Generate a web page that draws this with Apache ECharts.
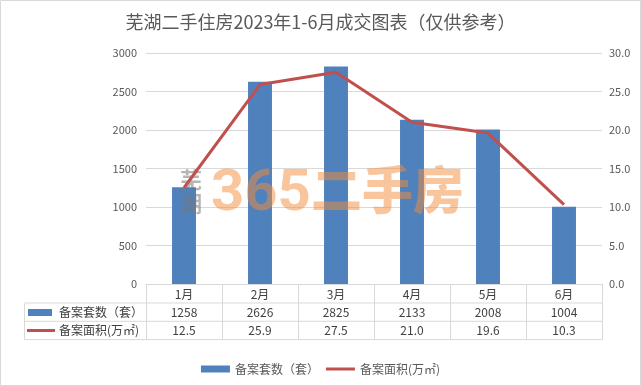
<!DOCTYPE html>
<html><head><meta charset="utf-8">
<script src="https://cdn.jsdelivr.net/npm/echarts@6/dist/echarts.min.js"></script>
<style>html,body{margin:0;padding:0;background:#fff}#c{width:641px;height:386px}</style>
</head><body><div id="c"></div>
<script>
const categories = ['1月','2月','3月','4月','5月','6月'];
const countValues = [1258, 2626, 2825, 2133, 2008, 1004];
const areaValues = [12.5, 25.9, 27.5, 21.0, 19.6, 10.3];
const seriesNames = ['备案套数（套）', '备案面积(万㎡)'];
const titleText = '芜湖二手住房2023年1-6月成交图表（仅供参考）';

const FONT = "'Noto Sans CJK SC', 'Microsoft YaHei', sans-serif";
const BLUE = '#4F81BD', RED = '#C0504D', GRID = '#d9d9d9', TXT = '#595959';
const G = {left: 146, right: 39, top: 53, bottom: 102};
const W = 641, H = 386;
const gridBottom = H - G.bottom;
const tableLeft = 24.5, tableRight = W - G.right;
const rowH = 18.3;

const chart = echarts.init(document.getElementById('c'), null, {renderer: 'canvas'});
const rowLines = [1, 2, 3].map(k => ({
  type: 'line', silent: true,
  shape: {x1: tableLeft, y1: gridBottom + 1 + rowH * k - 0.3, x2: tableRight, y2: gridBottom + 1 + rowH * k - 0.3},
  style: {stroke: GRID, lineWidth: 1}
}));
chart.setOption({
  backgroundColor: '#fff',
  textStyle: {fontFamily: FONT},
  title: {text: titleText, left: 'center', top: 8,
    textStyle: {fontSize: 18, fontWeight: 'normal', color: TXT, fontFamily: FONT}},
  grid: G,
  legend: {
    left: 'center', top: 358, itemWidth: 29, itemHeight: 7, itemGap: 7,
    textStyle: {fontSize: 12, color: TXT, fontFamily: FONT},
    data: [
      {name: seriesNames[0], icon: 'rect'},
      {name: seriesNames[1], icon: 'path://M0,0H29V3H0Z'}
    ]
  },
  xAxis: {
    type: 'category', data: categories,
    axisLine: {lineStyle: {color: GRID}},
    axisTick: {show: true, alignWithLabel: false, interval: 0, length: rowH * 3 + 1, lineStyle: {color: GRID}},
    axisLabel: {
      interval: 0, margin: 1,
      formatter: (v, i) => `{m|${v}}\n{v|${countValues[i]}}\n{v|${areaValues[i].toFixed(1)}}`,
      rich: {
        m: {fontSize: 12, lineHeight: rowH, color: '#404040', fontFamily: FONT},
        v: {fontSize: 12, lineHeight: rowH, color: '#404040', fontFamily: FONT}
      }
    }
  },
  yAxis: [
    {type: 'value', min: 0, max: 3000, interval: 500,
      axisLine: {show: false}, axisTick: {show: false},
      axisLabel: {color: TXT, fontSize: 11, margin: 9, fontFamily: FONT, formatter: v => String(v)},
      splitLine: {lineStyle: {color: GRID}}},
    {type: 'value', min: 0, max: 30, interval: 5,
      axisLine: {show: false}, axisTick: {show: false},
      axisLabel: {color: TXT, fontSize: 11, margin: 7, fontFamily: FONT, formatter: v => v.toFixed(1)},
      splitLine: {show: false}}
  ],
  series: [
    {name: seriesNames[0], type: 'bar', data: countValues, barWidth: '31.5%',
      itemStyle: {color: BLUE}, z: 2},
    {name: seriesNames[1], type: 'line', yAxisIndex: 1, data: areaValues,
      symbol: 'none', lineStyle: {color: RED, width: 3}, itemStyle: {color: RED}, z: 20}
  ],
  graphic: [
    {type: 'rect', silent: true, z: -1, shape: {x: 0.5, y: 0.5, width: W - 1, height: H - 1},
      style: {fill: 'none', stroke: GRID, lineWidth: 1}},
    ...rowLines,
    {type: 'line', silent: true, shape: {x1: tableLeft, y1: gridBottom + 1 + rowH - 0.3, x2: tableLeft, y2: gridBottom + 1 + rowH * 3 - 0.3},
      style: {stroke: GRID, lineWidth: 1}},
    {type: 'rect', silent: true, shape: {x: 28, y: 309, width: 24, height: 7}, style: {fill: BLUE}},
    {type: 'text', silent: true, x: 59, y: 312.5,
      style: {text: seriesNames[0], fontSize: 12, fill: '#404040', fontFamily: FONT, verticalAlign: 'middle'}},
    {type: 'rect', silent: true, shape: {x: 27, y: 329, width: 28, height: 3}, style: {fill: RED}},
    {type: 'text', silent: true, x: 59, y: 330.8,
      style: {text: seriesNames[1], fontSize: 12, fill: '#404040', fontFamily: FONT, verticalAlign: 'middle'}},
    // watermark
    {type: 'text', silent: true, z: 10, left: 180, top: 168,
      style: {text: '芜\n湖', fontSize: 22, lineHeight: 24, fontWeight: 'bold', fill: 'rgba(120,120,120,0.55)',
        fontFamily: FONT}},
    {type: 'text', silent: true, z: 10, left: 211, top: 166,
      style: {text: '365', fontSize: 58, fontWeight: 'bold', fill: 'rgba(244,140,60,0.5)', fontFamily: 'Roboto'}},
    {type: 'text', silent: true, z: 10, left: 311, top: 164,
      style: {text: '二手房', fontSize: 51, fontWeight: 900, fill: 'rgba(244,140,60,0.5)', fontFamily: FONT}}
  ]
});
</script></body></html>
